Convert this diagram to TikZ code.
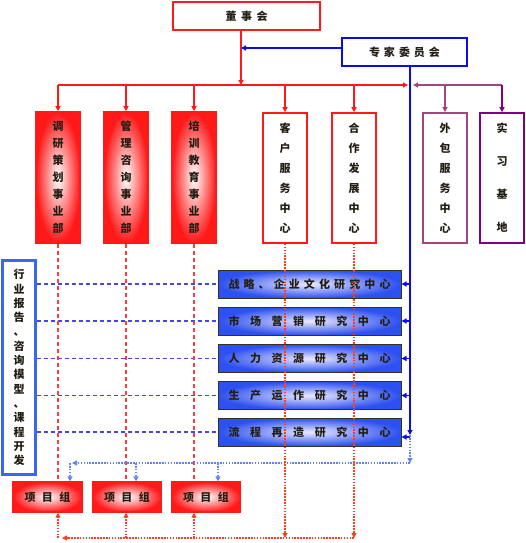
\documentclass[tikz,border=0pt]{standalone}
\usepackage{fontspec}
\setmainfont{Noto Sans CJK SC}
\usetikzlibrary{arrows.meta,positioning,calc}
\definecolor{orgRed}{RGB}{255,25,25}
\definecolor{orgBlue}{RGB}{10,10,235}
\definecolor{boxBlue}{RGB}{45,80,240}
\definecolor{dashBlue}{RGB}{70,70,225}
\definecolor{dotBlue}{RGB}{95,130,240}
\definecolor{sideBlue}{RGB}{55,105,240}
\definecolor{outPurple}{RGB}{160,70,130}
\definecolor{basePurple}{RGB}{128,0,128}
\definecolor{txtDark}{RGB}{35,30,20}
\definecolor{edgeDark}{RGB}{55,50,30}
\definecolor{dotRed}{RGB}{255,60,30}

\newcommand{\spreadtext}[2]{\makebox[#1][s]{#2}}

\tikzset{
  >={Triangle[length=5pt,width=5pt]},
  chartbox/.style={inner sep=0pt, text=txtDark, font=\bfseries\fontsize{11}{11}\selectfont},
  headbox/.style={chartbox, draw=orgRed, line width=1.6pt, fill=white, minimum width=147pt, minimum height=28pt},
  expertbox/.style={chartbox, draw=orgBlue, line width=1.6pt, fill=white, minimum width=125pt, minimum height=28pt},
  deptbox/.style={chartbox, draw=orgRed, line width=1.6pt, inner color=white, outer color=orgRed, minimum width=44pt, minimum height=131pt, align=center},
  centrebox/.style={chartbox, draw=orgRed, line width=1.6pt, fill=white, minimum width=44pt, minimum height=130pt, align=center},
  outbox/.style={chartbox, line width=1.6pt, fill=white, minimum width=44pt, minimum height=130pt, align=center},
  studybox/.style={chartbox, draw=edgeDark, line width=1pt, inner color=blue!8!white, outer color=boxBlue, minimum width=183pt, minimum height=28pt},
  teambox/.style={chartbox, draw=orgRed, line width=1.4pt, inner color=white, outer color=orgRed, minimum width=69pt, minimum height=30pt},
  sidebox/.style={chartbox, draw=sideBlue, line width=2.4pt, fill=white, minimum width=33pt, minimum height=214pt, align=center, font=\bfseries\fontsize{11}{14.3}\selectfont},
  redline/.style={draw=orgRed, line width=1.3pt},
  blueline/.style={draw=orgBlue, line width=1.3pt},
  purpline/.style={draw=outPurple, line width=1.3pt},
  bluedash/.style={draw=dashBlue, line width=1.2pt, dash pattern=on 4pt off 3pt},
  reddash/.style={draw=orgRed!85, line width=1.2pt, dash pattern=on 4pt off 3pt},
  bluedot/.style={draw=dotBlue, line width=1.5pt, dash pattern=on 1.6pt off 1.3pt},
  reddot/.style={draw=dotRed, line width=1.4pt, dash pattern=on 1.6pt off 1.3pt}
}

\begin{document}
\begin{tikzpicture}[x=1pt,y=-1pt]
\useasboundingbox (0,0) rectangle (525,543);

% top level
\node[headbox] (board) at (246.5,16) {\spreadtext{42pt}{董 事 会}};
\node[expertbox] (expert) at (404.5,52) {\spreadtext{71pt}{专 家 委 员 会}};

% departments and centres
\node[deptbox, font=\bfseries\fontsize{11}{17}\selectfont] (d1) at (58,177.5) {调\\研\\策\\划\\事\\业\\部};
\node[deptbox, font=\bfseries\fontsize{11}{17}\selectfont] (d2) at (126,177.5) {管\\理\\咨\\询\\事\\业\\部};
\node[deptbox, font=\bfseries\fontsize{11}{17}\selectfont] (d3) at (194,177.5) {培\\训\\教\\育\\事\\业\\部};
\node[centrebox, font=\bfseries\fontsize{11}{20}\selectfont] (c1) at (285,178) {客\\户\\服\\务\\中\\心};
\node[centrebox, font=\bfseries\fontsize{11}{20}\selectfont] (c2) at (354,178) {合\\作\\发\\展\\中\\心};
\node[outbox, draw=outPurple, font=\bfseries\fontsize{11}{20}\selectfont] (o1) at (445,178) {外\\包\\服\\务\\中\\心};
\node[outbox, draw=basePurple, font=\bfseries\fontsize{11}{33}\selectfont] (o2) at (502,178) {实\\习\\基\\地};

% research centres
\node[studybox] (r1) at (309.5,284) {\spreadtext{162pt}{战 略 、 企 业 文 化 研 究 中 心}};
\node[studybox] (r2) at (309.5,321) {\spreadtext{162pt}{市 场 营 销 研 究 中 心}};
\node[studybox] (r3) at (309.5,358.5) {\spreadtext{162pt}{人 力 资 源 研 究 中 心}};
\node[studybox] (r4) at (309.5,395.5) {\spreadtext{162pt}{生 产 运 作 研 究 中 心}};
\node[studybox] (r5) at (309.5,432) {\spreadtext{162pt}{流 程 再 造 研 究 中 心}};

\node[sidebox] (side) at (19,367.5) {行\\业\\报\\告\\、\\咨\\询\\模\\型\\、\\课\\程\\开\\发};

% project teams
\node[teambox] (g1) at (47.5,497) {\spreadtext{46pt}{项 目 组}};
\node[teambox] (g2) at (127,497) {\spreadtext{46pt}{项 目 组}};
\node[teambox] (g3) at (206,497) {\spreadtext{46pt}{项 目 组}};

% junctions
\coordinate (stem) at (241,48);
\coordinate (busJ) at (241,85);
\coordinate (busE) at (408,85);
\coordinate (purpW) at (413,85);
\coordinate (spine) at (410,435);
\coordinate (dotTurn) at (410,463);
\coordinate (dotEnd) at (72,463);
\coordinate (drop1) at (70,463);
\coordinate (drop2) at (136,463);
\coordinate (drop3) at (218,463);
\coordinate (baseE) at (354,538);
\coordinate (baseW) at (62,538);

% board and expert links
\draw[redline,->] (stem |- board.south) -- (busJ);
\draw[blueline,->] (expert.west |- stem) -- (stem);
\draw[redline,->] (d1.north |- busJ) -- (busE);
\foreach \n in {d1,d2,d3,c1,c2}
  \draw[redline,->] (\n.north |- busJ) -- (\n.north);
\draw[purpline,->] (o2.north |- busJ) -- (purpW);
\draw[purpline,->] (o1.north |- busJ) -- (o1.north);
\draw[draw=basePurple,line width=1.3pt,->] (o2.north |- busJ) -- (o2.north);

% expert spine to research centres
\draw[blueline,->] (expert.south -| spine) -- (spine);
\foreach \n in {r1,r2,r3,r4}
  \draw[blueline,->] (\n.east -| spine) -- (\n.east);
\draw[blueline,->] ($(r5.east -| spine)+(0,5)$) -- ($(r5.east)+(0,5)$);
\foreach \n in {r1,r2,r3,r4,r5}
  \draw[bluedash] (\n.west -| side.east) -- (\n.west);

% departments to project teams
\draw[reddash] (d1.south) -- (d1.south |- g1.north);
\draw[reddash] (d2.south) -- (d2.south |- g2.north);
\draw[reddash] (d3.south) -- (d3.south |- g3.north);

% research support to teams
\draw[bluedot,->] (spine) -- (dotTurn);
\draw[bluedot,->] (dotTurn) -- (dotEnd);
\draw[bluedot,->] (drop1) -- (drop1 |- g1.north);
\draw[bluedot,->] (drop2) -- (drop2 |- g2.north);
\draw[bluedot,->] (drop3) -- (drop3 |- g3.north);

% centres back to teams
\draw[reddot,->] (c1.south) -- (c1.south |- baseE);
\draw[reddot,->] (c2.south) -- (baseE);
\draw[reddot,->] (baseE) -- (baseW);
\draw[reddot,->] (d1.south |- baseE) -- (d1.south |- g1.south);
\draw[reddot,->] (d2.south |- baseE) -- (d2.south |- g2.south);
\draw[reddot,->] (d3.south |- baseE) -- (d3.south |- g3.south);
\end{tikzpicture}
\end{document}
